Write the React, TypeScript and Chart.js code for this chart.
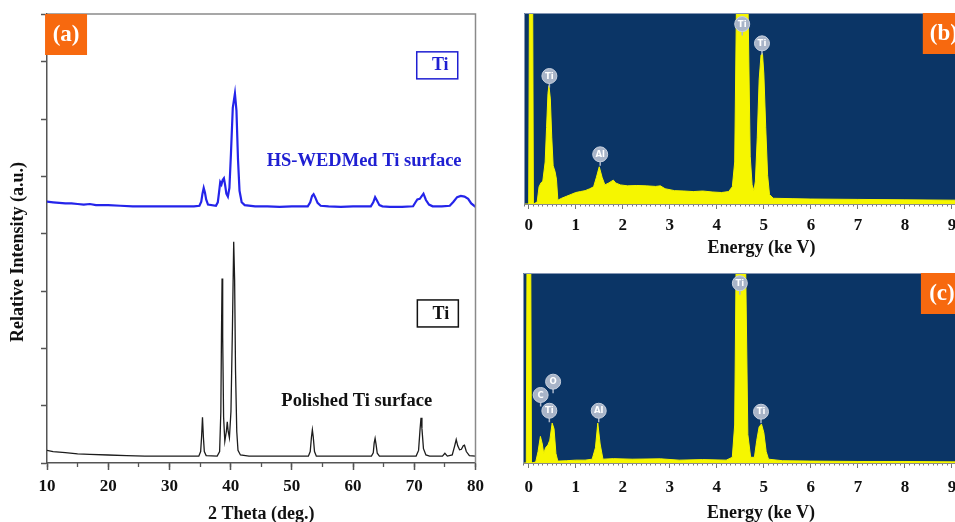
import React, { useEffect, useRef } from "react";
import { Chart, registerables } from "chart.js";

Chart.register(...registerables);

const SERIF = '"Liberation Serif", "Times New Roman", serif';
Chart.defaults.font.family = SERIF;

type Pt = [number, number];

// ---------- (a) XRD patterns: [2θ (deg), relative intensity (a.u.)] ----------
const hsWedmPoints: Pt[] = [
  [10, 4.56], [11, 4.55], [12, 4.54], [13, 4.53], [14, 4.53], [15, 4.52], [16, 4.51], [17, 4.52],
  [18, 4.5], [20, 4.5], [22, 4.49], [24, 4.48], [26, 4.48], [28, 4.48], [30, 4.48], [32, 4.48],
  [34, 4.48], [34.9, 4.49], [35.2, 4.56], [35.4, 4.7], [35.6, 4.8], [35.8, 4.72], [36.0, 4.6],
  [36.3, 4.51], [37.6, 4.49], [37.9, 4.55], [38.1, 4.72], [38.3, 4.9], [38.5, 4.86], [38.7, 4.94],
  [38.9, 4.97], [39.1, 4.85], [39.3, 4.7], [39.55, 4.65], [39.8, 4.8], [40.05, 5.4], [40.35, 6.2],
  [40.7, 6.45], [40.95, 6.15], [41.2, 5.3], [41.45, 4.75], [41.8, 4.55], [42.3, 4.5], [44, 4.48],
  [46, 4.48], [48, 4.47], [50, 4.48], [52.6, 4.48], [53.0, 4.55], [53.3, 4.66], [53.55, 4.69],
  [53.8, 4.64], [54.2, 4.54], [54.7, 4.49], [56, 4.48], [58, 4.47], [60, 4.48], [62.9, 4.48],
  [63.3, 4.55], [63.6, 4.64], [63.9, 4.58], [64.3, 4.5], [64.8, 4.48], [66, 4.47], [68, 4.47],
  [69.8, 4.48], [70.2, 4.55], [70.5, 4.6], [70.9, 4.61], [71.5, 4.7], [71.9, 4.59], [72.4, 4.51],
  [73.0, 4.48], [74.5, 4.48], [75.8, 4.49], [76.4, 4.56], [77.0, 4.64], [77.6, 4.66], [78.2, 4.65],
  [78.8, 4.61], [79.3, 4.53], [80, 4.47],
];

const polishedPoints: Pt[] = [
  [10, 0.22], [11, 0.2], [12, 0.19], [13, 0.18], [15, 0.16], [17, 0.15], [20, 0.14], [23, 0.13],
  [26, 0.12], [30, 0.12], [34.8, 0.12], [35.1, 0.2], [35.25, 0.45], [35.4, 0.8], [35.55, 0.45],
  [35.7, 0.2], [36.0, 0.13], [37.8, 0.12], [38.2, 0.2], [38.4, 0.9], [38.5, 2.2], [38.6, 3.22],
  [38.7, 2.2], [38.85, 0.8], [39.05, 0.38], [39.3, 0.55], [39.45, 0.72], [39.6, 0.55], [39.8, 0.44],
  [40.05, 0.9], [40.3, 2.4], [40.5, 3.86], [40.65, 3.2], [40.8, 1.6], [41.0, 0.55], [41.2, 0.22],
  [41.6, 0.14], [43, 0.12], [46, 0.12], [50, 0.12], [52.7, 0.12], [53.0, 0.2], [53.2, 0.45],
  [53.35, 0.58], [53.5, 0.45], [53.7, 0.2], [54.0, 0.12], [58, 0.12], [63.0, 0.12], [63.3, 0.18],
  [63.45, 0.35], [63.6, 0.43], [63.75, 0.33], [63.95, 0.17], [64.3, 0.12], [68, 0.12], [70.3, 0.12],
  [70.7, 0.22], [70.95, 0.6], [71.1, 0.79], [71.25, 0.6], [71.5, 0.25], [71.9, 0.14], [72.5, 0.12],
  [74.6, 0.12], [75.0, 0.17], [75.4, 0.12], [76.2, 0.14], [76.6, 0.3], [76.85, 0.41], [77.1, 0.3],
  [77.4, 0.23], [77.7, 0.24], [78.0, 0.3], [78.2, 0.31], [78.5, 0.2], [79.0, 0.13], [80, 0.12],
];

const xrdTextLabels = [
  { text: "HS-WEDMed Ti surface", x: 61.8, y: 5.27, color: "#1f1fd2" },
  { text: "Polished Ti surface", x: 60.6, y: 1.08, color: "#111111" },
];
const xrdPhaseBoxes = [
  { text: "Ti", x: 73.75, y: 6.94, color: "#1f1fd2" },
  { text: "Ti", x: 73.85, y: 2.61, color: "#111111" },
];

// ---------- (b), (c) EDS spectra: [energy (keV), counts (% of full scale)] ----------
const edsHsWedmPoints: Pt[] = [
  [-0.1, 0], [0.0, 0], [0.02, 140], [0.08, 140], [0.1, 0], [0.18, 1], [0.22, 9], [0.26, 11],
  [0.3, 12], [0.35, 22], [0.38, 40], [0.41, 58], [0.43, 62], [0.46, 55], [0.49, 35], [0.52, 20],
  [0.56, 17], [0.59, 13], [0.62, 2], [0.7, 3], [0.8, 4], [0.9, 5], [1.0, 6], [1.1, 6.5], [1.2, 7],
  [1.3, 8], [1.38, 9], [1.44, 14], [1.5, 19.5], [1.56, 14], [1.62, 10], [1.7, 11], [1.8, 12.5],
  [1.85, 11], [1.95, 10], [2.1, 9.5], [2.3, 9.7], [2.5, 9.5], [2.7, 9.2], [2.8, 9.5], [2.9, 8],
  [3.1, 7], [3.3, 6.8], [3.5, 6.5], [3.7, 6.8], [3.9, 6.3], [4.1, 6], [4.25, 6.5], [4.33, 9],
  [4.38, 22], [4.42, 110], [4.52, 200], [4.66, 110], [4.71, 25], [4.75, 10], [4.79, 7], [4.82, 12],
  [4.86, 35], [4.9, 65], [4.94, 78], [4.97, 79], [5.0, 68], [5.04, 40], [5.08, 15], [5.12, 5],
  [5.2, 3], [5.6, 2.8], [6.0, 2.6], [7.0, 2.4], [8.0, 2.2], [9.0, 2], [10.0, 2],
];

const edsPolishedPoints: Pt[] = [
  [-0.12, 0], [-0.05, 0], [-0.03, 140], [0.04, 140], [0.06, 0], [0.15, 0.5], [0.2, 6], [0.25, 14],
  [0.29, 10], [0.32, 5], [0.36, 8], [0.41, 9.5], [0.45, 12], [0.5, 21], [0.54, 18], [0.58, 5],
  [0.62, 1], [0.8, 1.2], [1.0, 1.5], [1.2, 1.5], [1.35, 2], [1.42, 8], [1.47, 21], [1.52, 10],
  [1.58, 2], [1.8, 2.3], [2.2, 2], [2.8, 2.2], [3.2, 1.5], [3.7, 1.8], [4.2, 1.5], [4.33, 3],
  [4.38, 20], [4.42, 130], [4.5, 200], [4.6, 130], [4.66, 15], [4.72, 3], [4.8, 3], [4.85, 12],
  [4.9, 19], [4.95, 20.5], [5.0, 16], [5.05, 6], [5.1, 2], [5.4, 1.2], [6.0, 1], [7.0, 0.8],
  [8.0, 0.8], [9.0, 0.6], [10.0, 0.5],
];

const edsBadgesB = [
  { el: "Ti", x: 0.44, y: 67 },
  { el: "Al", x: 1.52, y: 26 },
  { el: "Ti", x: 4.54, y: 94.2 },
  { el: "Ti", x: 4.96, y: 84.1 },
];
const edsBadgesC = [
  { el: "C", x: 0.255, y: 35.8 },
  { el: "O", x: 0.52, y: 42.8 },
  { el: "Ti", x: 0.44, y: 27.5 },
  { el: "Al", x: 1.49, y: 27.5 },
  { el: "Ti", x: 4.49, y: 94.6 },
  { el: "Ti", x: 4.94, y: 27 },
];

const ORANGE = "#f7690f";
const NAVY = "#0b3566";
const YELLOW = "#f6f600";

const toXY = (pts: Pt[]) => pts.map(([x, y]) => ({ x, y }));

function drawPanelLabel(chart: any, text: string, xValue: number) {
  const { ctx, chartArea: ca, scales } = chart;
  const px = scales.x.getPixelForValue(xValue);
  ctx.save();
  ctx.fillStyle = ORANGE;
  ctx.fillRect(px, ca.top, 42, 41);
  ctx.fillStyle = "#ffffff";
  ctx.font = `bold 23px ${SERIF}`;
  ctx.textAlign = "center";
  ctx.textBaseline = "middle";
  ctx.fillText(text, px + 21, ca.top + 21);
  ctx.restore();
}

function xrdConfig(): any {
  const tickFont = { family: SERIF, size: 17, weight: "bold" as const };
  const titleFont = { family: SERIF, size: 18, weight: "bold" as const };
  return {
    type: "line",
    data: {
      datasets: [
        {
          data: toXY(hsWedmPoints), xAxisID: "x", yAxisID: "y",
          borderColor: "#2424ea", borderWidth: 2.2, pointRadius: 0, tension: 0, fill: false,
        },
        {
          data: toXY(polishedPoints), xAxisID: "x", yAxisID: "y",
          borderColor: "#1c1c1c", borderWidth: 1.3, pointRadius: 0, tension: 0, fill: false,
        },
      ],
    },
    options: {
      animation: false,
      responsive: false,
      maintainAspectRatio: false,
      events: [],
      layout: { padding: { left: 0, top: 14, right: 13, bottom: 0 } },
      plugins: { legend: { display: false }, tooltip: { enabled: false } },
      scales: {
        x: {
          type: "linear", position: "bottom", weight: 1, min: 10, max: 80,
          ticks: { stepSize: 10, autoSkip: false, maxRotation: 0, font: tickFont, color: "#111", padding: 6 },
          grid: { drawOnChartArea: false, tickLength: 7, color: "#555", tickWidth: 1.5 },
          border: { color: "#555", width: 1.5 },
          title: { display: true, text: "2 Theta (deg.)", font: titleFont, color: "#111", padding: 0 },
          afterFit: (s: any) => { s.height = 62; },
        },
        xMinor: {
          type: "linear", position: "bottom", weight: 0, min: 10, max: 80,
          ticks: { display: false, stepSize: 5 },
          grid: { drawOnChartArea: false, tickLength: 4, color: "#555", tickWidth: 1.3 },
          border: { display: false },
          afterFit: (s: any) => { s.height = 0; },
        },
        y: {
          type: "linear", position: "left", min: 0, max: 7.836,
          ticks: { display: false, stepSize: 1 },
          grid: { drawOnChartArea: false, tickLength: 6, color: "#555", tickWidth: 1.5 },
          border: { color: "#555", width: 1.5 },
          title: {
            display: true, text: "Relative Intensity (a.u.)\u00a0\u00a0\u00a0\u00a0\u00a0\u00a0",
            font: titleFont, color: "#111", padding: { top: 8, bottom: 0 },
          },
          afterFit: (s: any) => { s.width = 47; },
        },
      },
    },
    plugins: [
      {
        id: "xrdDecor",
        afterDraw(chart: any) {
          const { ctx, chartArea: ca, scales } = chart;
          ctx.save();
          ctx.strokeStyle = "#8a8a8a";
          ctx.lineWidth = 1.5;
          ctx.beginPath();
          ctx.moveTo(ca.left, ca.top);
          ctx.lineTo(ca.right, ca.top);
          ctx.lineTo(ca.right, ca.bottom);
          ctx.stroke();
          ctx.textAlign = "center";
          ctx.textBaseline = "middle";
          for (const l of xrdTextLabels) {
            ctx.fillStyle = l.color;
            ctx.font = `bold 18.5px ${SERIF}`;
            ctx.fillText(l.text, scales.x.getPixelForValue(l.x), scales.y.getPixelForValue(l.y));
          }
          for (const b of xrdPhaseBoxes) {
            const cx = scales.x.getPixelForValue(b.x);
            const cy = scales.y.getPixelForValue(b.y);
            ctx.strokeStyle = b.color;
            ctx.lineWidth = 1.5;
            ctx.strokeRect(cx - 20.5, cy - 13.5, 41, 27);
            ctx.fillStyle = b.color;
            ctx.font = `bold 18px ${SERIF}`;
            ctx.fillText(b.text, cx + 3, cy + 0.5);
          }
          ctx.restore();
          drawPanelLabel(chart, "(a)", 9.68);
        },
      },
    ],
  };
}

function edsConfig(points: Pt[], badges: { el: string; x: number; y: number }[], label: string,
  labelX: number, xMin: number, pad: any, axisHeight: number, titlePad: number, tickPad: number): any {
  const tickFont = { family: SERIF, size: 17, weight: "bold" as const };
  const titleFont = { family: SERIF, size: 18, weight: "bold" as const };
  return {
    type: "line",
    data: {
      datasets: [
        {
          data: toXY(points), xAxisID: "x", yAxisID: "y",
          borderColor: YELLOW, backgroundColor: YELLOW, borderWidth: 1,
          pointRadius: 0, tension: 0, fill: "origin",
        },
      ],
    },
    options: {
      animation: false,
      responsive: false,
      maintainAspectRatio: false,
      events: [],
      layout: { padding: pad },
      plugins: { legend: { display: false }, tooltip: { enabled: false } },
      scales: {
        x: {
          type: "linear", position: "bottom", weight: 1, min: xMin, max: 10,
          ticks: {
            stepSize: 1, autoSkip: false, includeBounds: false, maxRotation: 0, font: tickFont,
            color: "#111", padding: tickPad,
            callback: (v: number) => (Number.isInteger(v) ? String(v) : ""),
          },
          grid: { drawOnChartArea: false, tickLength: 5, color: "#777", tickWidth: 1 },
          border: { color: "#8a8a8a", width: 1 },
          title: { display: true, text: "Energy (ke V)", font: titleFont, color: "#111", padding: { top: 0, bottom: titlePad } },
          afterFit: (s: any) => { s.height = axisHeight; },
        },
        xMinor: {
          type: "linear", position: "bottom", weight: 0, min: xMin, max: 10,
          ticks: { display: false, stepSize: 0.1 },
          grid: { drawOnChartArea: false, tickLength: 2.5, color: "#777", tickWidth: 1 },
          border: { display: false },
          afterFit: (s: any) => { s.height = 0; },
        },
        y: { type: "linear", display: false, min: 0, max: 100 },
      },
    },
    plugins: [
      {
        id: "edsDecor",
        beforeDraw(chart: any) {
          const { ctx, chartArea: ca } = chart;
          ctx.save();
          ctx.fillStyle = NAVY;
          ctx.fillRect(ca.left, ca.top, ca.right - ca.left, ca.bottom - ca.top);
          ctx.restore();
        },
        afterDraw(chart: any) {
          const { ctx, chartArea: ca, scales } = chart;
          ctx.save();
          ctx.strokeStyle = "#8496b4";
          ctx.lineWidth = 1;
          ctx.beginPath();
          ctx.moveTo(ca.left + 0.5, ca.bottom);
          ctx.lineTo(ca.left + 0.5, ca.top + 0.5);
          ctx.lineTo(ca.right, ca.top + 0.5);
          ctx.stroke();
          const r = 7.5;
          for (const b of badges) {
            const cx = scales.x.getPixelForValue(b.x);
            const cy = scales.y.getPixelForValue(b.y);
            ctx.strokeStyle = "#aab6ca";
            ctx.lineWidth = 1.5;
            ctx.beginPath();
            ctx.moveTo(cx, cy + r - 1);
            ctx.lineTo(cx, cy + r + 4);
            ctx.stroke();
            ctx.beginPath();
            ctx.arc(cx, cy, r, 0, Math.PI * 2);
            ctx.fillStyle = "#a8b4c8";
            ctx.fill();
            ctx.strokeStyle = "#c7d0de";
            ctx.lineWidth = 1;
            ctx.stroke();
            ctx.fillStyle = "#ffffff";
            ctx.font = `bold 8.5px "DejaVu Sans", sans-serif`;
            ctx.textAlign = "center";
            ctx.textBaseline = "middle";
            ctx.fillText(b.el, cx, cy + 0.5);
          }
          ctx.restore();
          drawPanelLabel(chart, label, labelX);
        },
      },
    ],
  };
}

export default function App() {
  const aRef = useRef<HTMLCanvasElement>(null);
  const bRef = useRef<HTMLCanvasElement>(null);
  const cRef = useRef<HTMLCanvasElement>(null);

  useEffect(() => {
    const charts: Chart[] = [];
    if (aRef.current) charts.push(new Chart(aRef.current, xrdConfig()));
    if (bRef.current)
      charts.push(new Chart(bRef.current, edsConfig(edsHsWedmPoints, edsBadgesB, "(b)", 8.38, -0.1,
        { left: 24, top: 13, right: 21, bottom: 0 }, 56, 1, 6)));
    if (cRef.current)
      charts.push(new Chart(cRef.current, edsConfig(edsPolishedPoints, edsBadgesC, "(c)", 8.34, -0.12,
        { left: 23, top: 13, right: 21, bottom: 0 }, 61, 0, 9)));
    return () => charts.forEach((c) => c.destroy());
  }, []);

  return (
    <div style={{ position: "fixed", left: 0, top: 0, width: 955, height: 522, overflow: "hidden", background: "#fff" }}>
      <canvas ref={aRef} width={490} height={525} style={{ position: "absolute", left: 0, top: 0, width: 490, height: 525 }} />
      <canvas ref={bRef} width={520} height={260} style={{ position: "absolute", left: 500, top: 0, width: 520, height: 260 }} />
      <canvas ref={cRef} width={520} height={264} style={{ position: "absolute", left: 500, top: 260, width: 520, height: 264 }} />
    </div>
  );
}
